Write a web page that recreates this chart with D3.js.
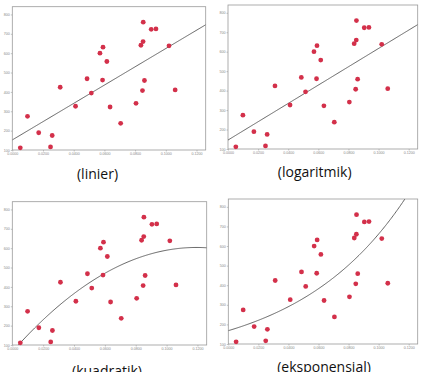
<!DOCTYPE html>
<html>
<head>
<meta charset="utf-8">
<script src="https://cdn.jsdelivr.net/npm/d3@7"></script>
<style>
  html, body { margin: 0; padding: 0; background: #fff; }
  svg { display: block; }
</style>
</head>
<body>
<script>
// ---- data ----
const xValues = [0.0052, 0.0099, 0.0172, 0.0249, 0.0260, 0.0312, 0.0412, 0.0487, 0.0515, 0.0571,
                 0.0591, 0.0588, 0.0616, 0.0637, 0.0706, 0.0806, 0.0838, 0.0852, 0.0853, 0.0848,
                 0.0861, 0.0905, 0.0936, 0.1021, 0.1061];
const yValues = [111, 274, 189, 116, 175, 424, 326, 468, 394, 600,
                 631, 461, 557, 322, 238, 341, 641, 660, 760, 407,
                 459, 723, 725, 638, 410];
const xTicks = [0, 0.02, 0.04, 0.06, 0.08, 0.10, 0.12];
const yTicks = [100, 200, 300, 400, 500, 600, 700, 800];
const titles = ["(linier)", "(logaritmik)", "(kuadratik)", "(eksponensial)"];
// fitted model coefficients (estimated from the drawn curves)
const linearCoef = [152, 4720];
const logCoef = [146, 4707];
const quadCoef = [65, 9023, -37785];
const expCoef = [168, 13.7];

const xDomain = [0, 0.126];
const yDomain = [100, 840];

const models = [
  x => linearCoef[0] + linearCoef[1] * x,
  x => logCoef[0] + logCoef[1] * x,
  x => quadCoef[0] + quadCoef[1] * x + quadCoef[2] * x * x,
  x => expCoef[0] * Math.exp(expCoef[1] * x)
];

// ---- layout ----
const W = 430, H = 372;
const boxes = [
  { x0: 12.3, x1: 205.7, yTop: 6.7, yBot: 150, tx: 97.5, ty: 178.9 },
  { x0: 228.0, x1: 417.7, yTop: 5.0, yBot: 149, tx: 314.7, ty: 177.3 },
  { x0: 12.3, x1: 206.7, yTop: 201.7, yBot: 345, tx: 107, ty: 375.6 },
  { x0: 228.3, x1: 417.7, yTop: 199, yBot: 344, tx: 324, ty: 372.3 }
];

const svg = d3.select("body").append("svg")
  .attr("width", W).attr("height", H)
  .attr("viewBox", `0 0 ${W} ${H}`);

boxes.forEach((b, i) => {
  const x = d3.scaleLinear().domain(xDomain).range([b.x0, b.x1]);
  const y = d3.scaleLinear().domain(yDomain).range([b.yBot, b.yTop]);
  const g = svg.append("g");

  const clipId = "clip" + i;
  g.append("clipPath").attr("id", clipId)
    .append("rect")
    .attr("x", b.x0).attr("y", b.yTop)
    .attr("width", b.x1 - b.x0).attr("height", b.yBot - b.yTop);

  // axes
  const xAxis = d3.axisBottom(x).tickValues(xTicks)
    .tickFormat(d3.format(".4f")).tickSize(1.5).tickPadding(1);
  const yAxis = d3.axisLeft(y).tickValues(yTicks)
    .tickFormat(d3.format("d")).tickSize(1.5).tickPadding(1);

  const gx = g.append("g").attr("transform", `translate(0,${b.yBot})`).call(xAxis);
  const gy = g.append("g").attr("transform", `translate(${b.x0},0)`).call(yAxis);
  [gx, gy].forEach(a => {
    a.select(".domain").remove();
    a.selectAll(".tick line").attr("stroke", "#888").attr("stroke-width", 0.5);
    a.selectAll(".tick text").attr("fill", "#888")
      .style("font-family", "'Liberation Sans', Arial, sans-serif")
      .style("font-size", "3.6px");
  });

  // frame
  g.append("rect")
    .attr("x", b.x0).attr("y", b.yTop)
    .attr("width", b.x1 - b.x0).attr("height", b.yBot - b.yTop)
    .attr("fill", "none").attr("stroke", "#9a9a9a").attr("stroke-width", 0.8);

  // fitted curve
  const xs = d3.range(0, 201).map(k => xDomain[0] + (xDomain[1] - xDomain[0]) * k / 200);
  const line = d3.line().x(d => x(d)).y(d => y(models[i](d)));
  g.append("path")
    .attr("clip-path", `url(#${clipId})`)
    .attr("d", line(xs))
    .attr("fill", "none").attr("stroke", "#555").attr("stroke-width", 0.9);

  // points
  g.append("g").selectAll("circle")
    .data(xValues.map((xv, k) => [xv, yValues[k]]))
    .join("circle")
    .attr("cx", d => x(d[0])).attr("cy", d => y(d[1]))
    .attr("r", 2.4)
    .attr("fill", "#d3304a");

  // title
  svg.append("text")
    .attr("x", b.tx).attr("y", b.ty)
    .attr("text-anchor", "middle")
    .style("font-family", "'Open Sans', sans-serif")
    .style("font-size", "14px")
    .attr("fill", "#111")
    .text(titles[i]);
});
</script>
</body>
</html>
